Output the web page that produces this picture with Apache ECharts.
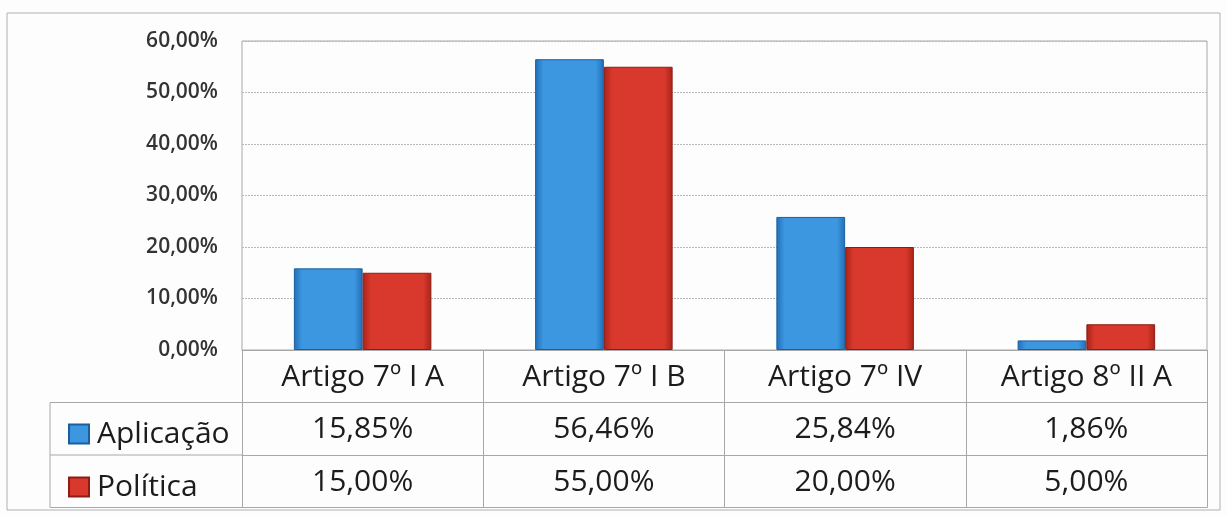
<!DOCTYPE html>
<html>
<head>
<meta charset="utf-8">
<style>
  html, body { margin: 0; padding: 0; background: #fdfdfd; }
  #chart { width: 1227px; height: 515px; }
</style>
<script src="https://cdn.jsdelivr.net/npm/echarts@6/dist/echarts.min.js"></script>
</head>
<body>
<div id="chart"></div>
<script>
// dados
const categorias = ['Artigo 7º I A', 'Artigo 7º I B', 'Artigo 7º IV', 'Artigo 8º II A']
const aplicacao = [15.85, 56.46, 25.84, 1.86]
const politica = [15.0, 55.0, 20.0, 5.0]
const yTicks = [0, 10, 20, 30, 40, 50, 60]

const fmt = v => v.toFixed(2).replace('.', ',') + '%'

// geometria da área do gráfico
const G = { left: 242, right: 20, top: 41, bottom: 165 }
const H = 515
const baseY = H - G.bottom
const rowH = 52.5
const tableLeft = 50
const lineColor = '#a8a8a8'
const font = '"Open Sans", "Noto Sans", sans-serif'
const tableFont = 30
const textColor = '#1c1c1c'

const grad = (dark, light) => ({
  type: 'linear', x: 0, y: 0, x2: 1, y2: 0,
  colorStops: [
    { offset: 0, color: dark },
    { offset: 0.12, color: light },
    { offset: 0.88, color: light },
    { offset: 1, color: dark }
  ]
})

const rowAxis = (idx, labels) => ({
  type: 'category',
  gridIndex: 0,
  position: 'bottom',
  offset: rowH * idx,
  data: categorias,
  axisLine: { show: true, lineStyle: { color: lineColor } },
  axisTick: { show: false },
  axisLabel: labels
    ? { show: true, margin: 12, fontSize: tableFont, color: textColor, fontFamily: font, formatter: (v, i) => fmt(labels[i]) }
    : { show: false }
})

const chart = echarts.init(document.getElementById('chart'))
chart.setOption({
  backgroundColor: '#fdfdfd',
  animation: false,
  grid: { ...G, show: true, borderColor: lineColor, borderWidth: 1 },
  legend: {
    orient: 'vertical',
    left: 63,
    top: 414,
    itemWidth: 20,
    itemHeight: 19,
    itemGap: 23,
    icon: 'rect',
    textStyle: { fontSize: tableFont, color: textColor, fontFamily: font, padding: [0, 0, 0, 3] },
    data: ['Aplicação', 'Política']
  },
  xAxis: [
    {
      type: 'category',
      data: categorias,
      axisLine: { lineStyle: { color: lineColor } },
      axisTick: { show: true, length: rowH * 3, lineStyle: { color: lineColor } },
      axisLabel: { margin: 12, fontSize: tableFont, color: textColor, fontFamily: font }
    },
    rowAxis(1, aplicacao),
    rowAxis(2, politica),
    rowAxis(3, null)
  ],
  yAxis: {
    type: 'value',
    min: yTicks[0],
    max: yTicks[yTicks.length - 1],
    interval: 10,
    axisLine: { show: false },
    axisTick: { show: false },
    splitLine: { lineStyle: { color: '#b8b8b8', type: [2, 1] } },
    axisLabel: {
      margin: 24,
      fontSize: 21,
      fontWeight: 600,
      color: '#333',
      fontFamily: font,
      formatter: v => fmt(v)
    }
  },
  series: [
    {
      name: 'Aplicação',
      type: 'bar',
      data: aplicacao,
      barGap: '0%',
      barCategoryGap: '43%',
      itemStyle: { color: grad('#1f6fb8', '#3d97e0'), borderColor: '#1a5e9e', borderWidth: 1 }
    },
    {
      name: 'Política',
      type: 'bar',
      data: politica,
      itemStyle: { color: grad('#a82218', '#d9392c'), borderColor: '#8e1c14', borderWidth: 1 }
    }
  ],
  graphic: [
    { type: 'rect', shape: { x: 7, y: 13, width: 1213, height: 497 }, style: { fill: 'none', stroke: '#b0b0b0', lineWidth: 1 }, silent: true },
    { type: 'line', shape: { x1: tableLeft, y1: baseY + rowH, x2: tableLeft, y2: baseY + rowH * 3 }, style: { stroke: lineColor } },
    { type: 'line', shape: { x1: tableLeft, y1: baseY + rowH, x2: G.left, y2: baseY + rowH }, style: { stroke: lineColor } },
    { type: 'line', shape: { x1: tableLeft, y1: baseY + rowH * 2, x2: G.left, y2: baseY + rowH * 2 }, style: { stroke: lineColor } },
    { type: 'line', shape: { x1: tableLeft, y1: baseY + rowH * 3, x2: G.left, y2: baseY + rowH * 3 }, style: { stroke: lineColor } }
  ]
})
</script>
</body>
</html>
